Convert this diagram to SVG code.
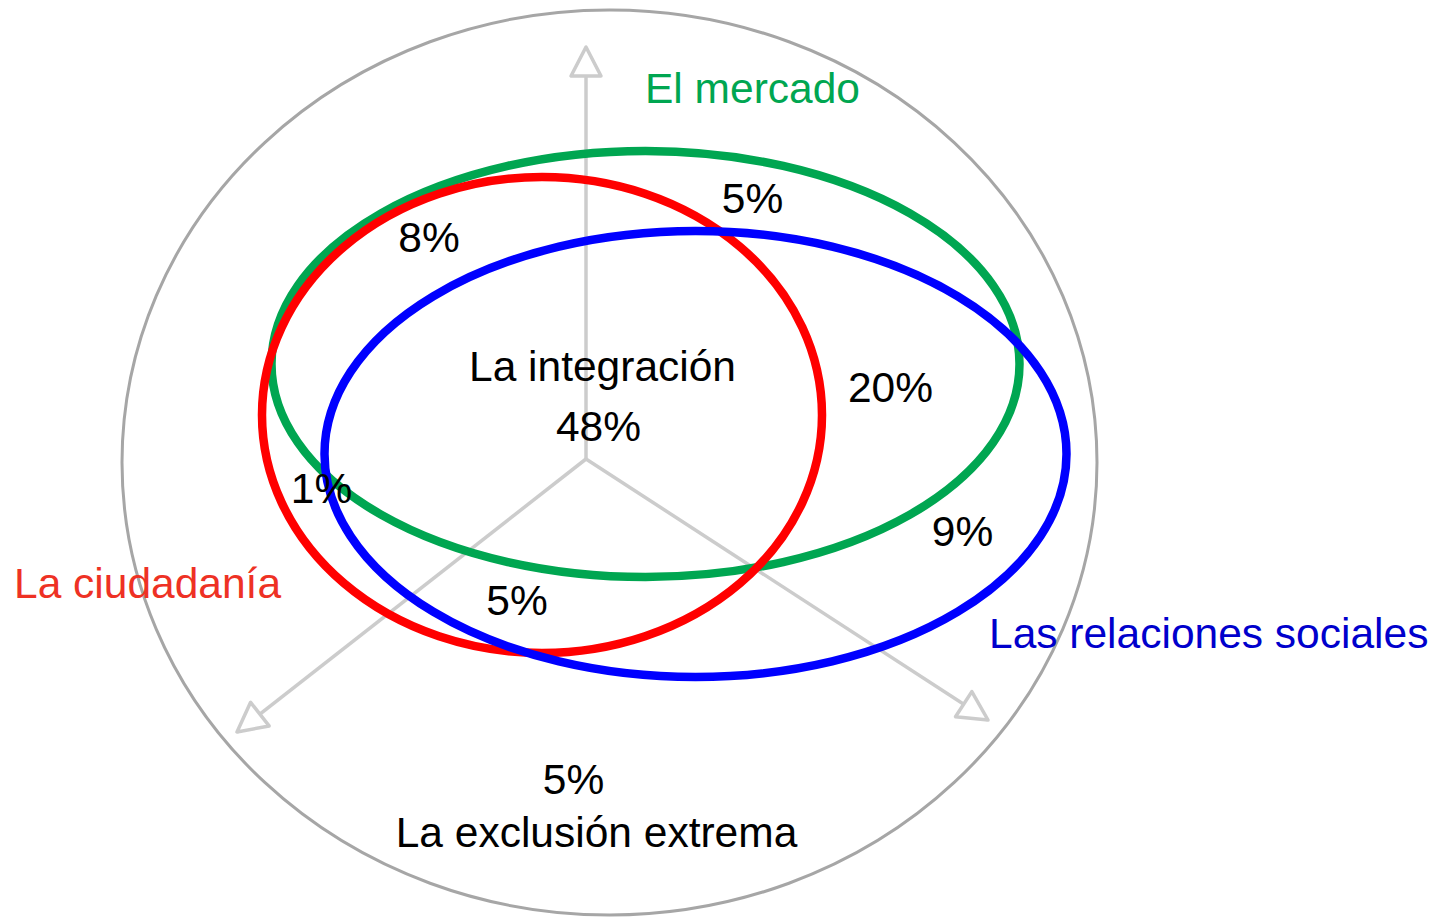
<svg xmlns="http://www.w3.org/2000/svg" width="1440" height="919" viewBox="0 0 1440 919">
<style>
.t{font-family:"Liberation Sans",Arial,sans-serif;font-size:42.5px;fill:#000}
.axis{stroke:#CCCCCC;stroke-width:3.5;fill:none}
.ring{fill:none;stroke-width:8.5}
</style>
<defs>
<marker id="arr" markerUnits="userSpaceOnUse" markerWidth="40" markerHeight="40" refX="0" refY="0" orient="auto" overflow="visible">
<path d="M0,0 L-29,-15 L-29,15 Z" fill="#fff" stroke="#CCCCCC" stroke-width="3.5" stroke-linejoin="round"/>
</marker>
</defs>
<rect width="1440" height="919" fill="#fff"/>
<g id="frame">
<ellipse cx="609.5" cy="462.5" rx="487.5" ry="452.5" fill="none" stroke="#A6A6A6" stroke-width="3"/>
</g>
<g id="connectors">
<line class="axis" x1="586" y1="459" x2="586" y2="47" marker-end="url(#arr)"/>
<line class="axis" x1="586" y1="459" x2="237" y2="732" marker-end="url(#arr)"/>
<line class="axis" x1="586" y1="459" x2="988" y2="720" marker-end="url(#arr)"/>
</g>
<g id="mercado">
<ellipse class="ring" cx="645.5" cy="364" rx="374" ry="213" stroke="#00A651"/>
<text class="t" x="645" y="103" style="fill:#00A651">El mercado</text>
</g>
<g id="ciudadania">
<ellipse class="ring" cx="542" cy="415" rx="280" ry="238" stroke="#FF0000"/>
<text class="t" x="14" y="598" style="fill:#EE3124">La ciudadanía</text>
</g>
<g id="relaciones">
<ellipse class="ring" cx="695.5" cy="454" rx="371" ry="223" stroke="#0000FF"/>
<text class="t" x="989" y="648" style="fill:#0000CC">Las relaciones sociales</text>
</g>
<g id="integracion">
<text class="t" x="602.5" y="381" text-anchor="middle">La integración</text>
<text class="t" x="598.5" y="441" text-anchor="middle">48%</text>
</g>
<g id="labels">
<text class="t" x="752.5" y="213" text-anchor="middle">5%</text>
<text class="t" x="429" y="252" text-anchor="middle">8%</text>
<text class="t" x="890.5" y="402" text-anchor="middle">20%</text>
<text class="t" x="962.5" y="546" text-anchor="middle">9%</text>
<text class="t" x="321.5" y="503" text-anchor="middle">1%</text>
<text class="t" x="517" y="615" text-anchor="middle">5%</text>
</g>
<g id="exclusion">
<text class="t" x="573.5" y="794" text-anchor="middle">5%</text>
<text class="t" x="596.5" y="847" text-anchor="middle">La exclusión extrema</text>
</g>
</svg>
